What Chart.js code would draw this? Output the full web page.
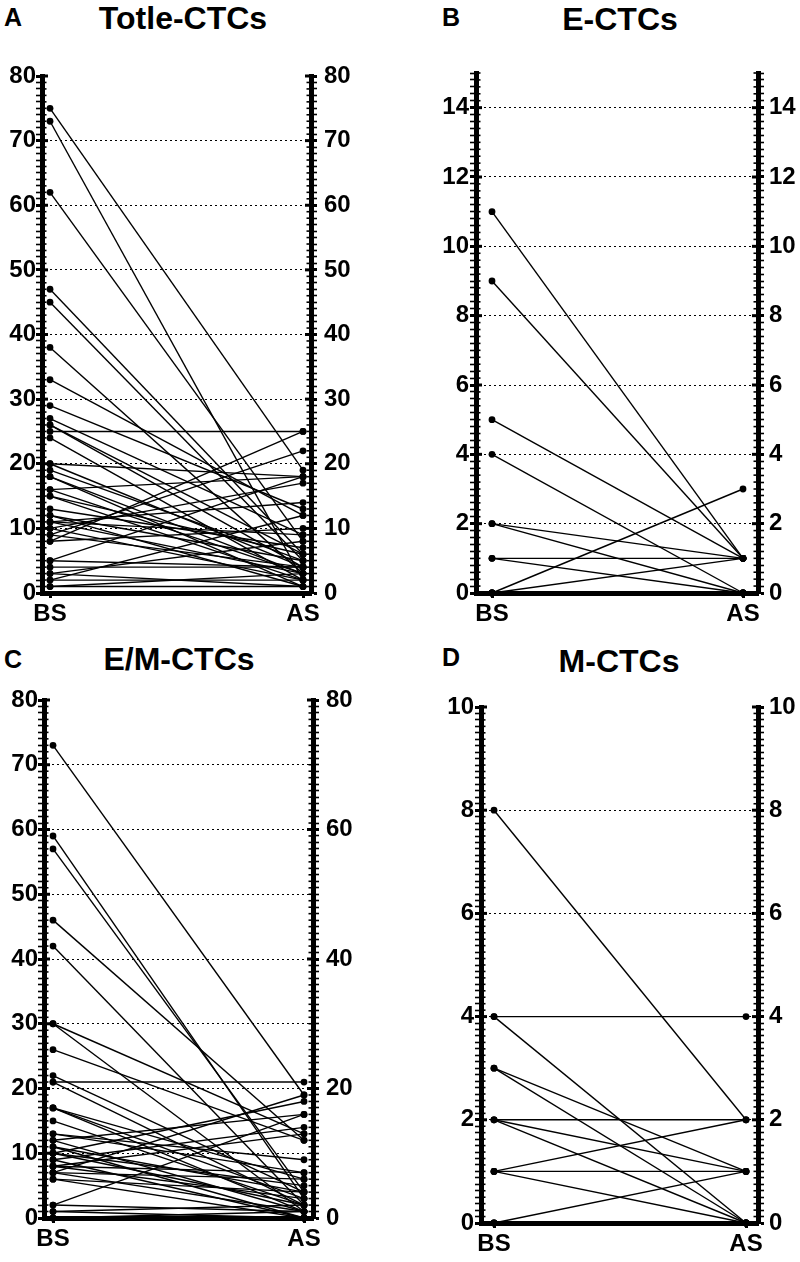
<!DOCTYPE html>
<html><head><meta charset="utf-8">
<script src="https://cdn.jsdelivr.net/npm/chart.js@4.4.1/dist/chart.umd.min.js"></script>
<style>
body{margin:0;background:#fff;width:800px;height:1262px;position:relative;overflow:hidden;font-family:"Liberation Sans",Arial,sans-serif;}
canvas{position:absolute;}
.t{position:absolute;font-weight:bold;color:#000;white-space:nowrap;line-height:1;}
.c{transform:translateX(-50%);}
</style></head><body>
<div class="t" style="left:4px;top:5px;font-size:25px">A</div>
<div class="t c" style="left:183px;top:2px;font-size:32px">Totle-CTCs</div>
<div class="t" style="left:442px;top:5px;font-size:25px">B</div>
<div class="t c" style="left:620px;top:3px;font-size:32px">E-CTCs</div>
<div class="t" style="left:4px;top:647px;font-size:25px">C</div>
<div class="t c" style="left:179px;top:643px;font-size:32px">E/M-CTCs</div>
<div class="t" style="left:442px;top:645px;font-size:25px">D</div>
<div class="t c" style="left:619px;top:645px;font-size:32px">M-CTCs</div>
<script>
// ---- data ----
const xLabels = ['BS', 'AS'];

const totalBS = [75,73,62,47,45,38,33,29,27,26,26,25,24,20,20,19,18,18,16,16,15,15,13,12,12,11,11,11,10,10,9,9,8,8,5,5,4,3,3,2,2,1,1];
const totalAS = [19,2,8,6,5,3,12,13,9,6,4,25,2,18,4,5,3,1,18,3,2,6,7,5,1,14,9,3,17,2,22,4,25,10,18,4,4,8,1,2,12,1,3];

const eBS = [11,9,5,4,2,2,1,1,0,0,0,0,0];
const eAS = [1,1,1,0,1,0,1,0,3,1,0,0,0];

const emBS = [73,59,57,46,42,30,30,26,22,21,21,17,17,17,15,13,13,12,12,11,11,10,10,10,9,9,8,8,8,7,7,7,6,6,2,2,1,1,0,0];
const emAS = [19,3,4,12,2,13,1,12,4,21,2,6,3,1,2,9,7,16,1,4,0,18,5,2,0,14,13,7,3,19,6,1,4,0,16,1,2,0,1,0];

const mBS = [8,4,4,3,3,2,2,2,1,1,1,0,0,0];
const mAS = [2,4,0,1,0,2,1,0,2,1,0,1,0,0];

const totalTicksLeft  = [0,10,20,30,40,50,60,70,80];
const totalTicksRight = [0,10,20,30,40,50,60,70,80];
const totalGrid       = [10,20,30,40,50,60,70];
const eTicksLeft  = [0,2,4,6,8,10,12,14];
const eTicksRight = [0,2,4,6,8,10,12,14];
const eGrid       = [2,4,6,8,10,12,14];
const emTicksLeft  = [0,10,20,30,40,50,60,70,80];
const emTicksRight = [0,20,40,60,80];
const emGrid       = [10,20,30,40,50,60,70];
const mTicksLeft  = [0,2,4,6,8,10];
const mTicksRight = [0,2,4,6,8,10];
const mGrid       = [2,4,6,8];

// ---- drawing ----
const FONT = '"Liberation Sans", Arial, sans-serif';

// short tick marks on the inner side of each y axis (drawn from the scale's own ticks)
const innerTicks = {
  id:'innerTicks',
  afterDraw(chart){
    const ctx = chart.ctx;
    ['y','y2'].forEach(id => {
      const s = chart.scales[id]; if (!s) return;
      const major = s.options._majorList || [];
      const xEdge = id==='y' ? chart.chartArea.left : chart.chartArea.right;
      const dir = id==='y' ? 1 : -1;
      ctx.save(); ctx.strokeStyle='#000';
      s.ticks.forEach(t => {
        const y = s.getPixelForValue(t.value);
        const isMaj = major.includes(t.value);
        ctx.lineWidth = isMaj ? 3 : 1.6;
        ctx.beginPath();
        ctx.moveTo(xEdge, y);
        ctx.lineTo(xEdge + dir*(isMaj ? 6 : 4.5), y);
        ctx.stroke();
      });
      ctx.restore();
    });
  }
};

function yScale(pos, min, max, step, labels, gridVals, width, pad, onArea){
  return {
    type:'linear', position:pos, min:min, max:max, _majorList: labels,
    afterBuildTicks: s => {
      const t = []; const n = Math.round((max-min)/step);
      for (let i=0;i<=n;i++) t.push({value: +(min+i*step).toFixed(4)});
      s.ticks = t;
    },
    afterFit: s => { s.width = width; },
    ticks:{autoSkip:false, padding:pad, color:'#000',
      font:{family:FONT, size:24, weight:'bold'},
      callback: v => labels.includes(v) ? String(v) : ''},
    grid:{drawOnChartArea:onArea, lineWidth:1,
      color: c => (c.tick && gridVals.includes(c.tick.value)) ? '#000' : 'rgba(0,0,0,0)',
      tickLength:6, tickColor:'#000',
      tickWidth: c => (c.tick && labels.includes(c.tick.value)) ? 3 : 1.6},
    border:{display:true, width:5, color:'#000', dash:[2,3]}
  };
}

function panel(p){
  const cv = document.createElement('canvas');
  cv.width = p.cw; cv.height = p.ch;
  cv.style.left = p.cx+'px'; cv.style.top = p.cy+'px';
  cv.style.width = p.cw+'px'; cv.style.height = p.ch+'px';
  document.body.appendChild(cv);
  const datasets = p.bs.map((b,i)=>({
    data:[{x:0,y:b},{x:1,y:p.as[i]}],
    borderColor:'#000', backgroundColor:'#000', borderWidth:1.4,
    pointRadius:3.4, pointHoverRadius:3.4, pointBackgroundColor:'#000',
    pointBorderWidth:0, clip:false, fill:false, tension:0
  }));
  const span = p.asX - p.bsX;
  new Chart(cv, {
    type:'line',
    data:{datasets},
    plugins:[innerTicks],
    options:{
      responsive:false, animation:false, events:[],
      layout:{padding:{left:0, right:0, top:p.axisT-p.cy, bottom:0}},
      plugins:{legend:{display:false}, tooltip:{enabled:false}, title:{display:false}},
      scales:{
        x:{type:'linear', position:'bottom',
          min: -(p.bsX-p.axisL)/span, max: 1+(p.axisR-p.asX)/span,
          afterBuildTicks: s => { s.ticks = [{value:0},{value:1}]; },
          afterFit: s => { s.height = p.cy+p.ch-p.axisB; },
          ticks:{autoSkip:false, maxRotation:0, padding:2, color:'#000',
            font:{family:FONT, size:24, weight:'bold'},
            callback: v => (v===0||v===1) ? xLabels[v] : ''},
          grid:{drawOnChartArea:false, tickLength:5, tickWidth:3, tickColor:'#000'},
          border:{display:true, width:5, color:'#000'}
        },
        y: yScale('left', p.min, p.max, p.step, p.left, p.grid, p.axisL-p.cx, p.padL, true),
        y2: yScale('right', p.min, p.max, p.step, p.right, [], p.cx+p.cw-p.axisR, p.padR, false)
      }
    }
  });
}

panel({cx:0, cy:0, cw:400, ch:630, axisL:42, axisR:311, axisT:76, axisB:593,
  bsX:50, asX:303, min:0, max:80, step:1, left:totalTicksLeft, right:totalTicksRight,
  grid:totalGrid, padL:0, padR:7, bs:totalBS, as:totalAS});
panel({cx:400, cy:0, cw:400, ch:630, axisL:476, axisR:758, axisT:73, axisB:593,
  bsX:492, asX:743, min:0, max:15, step:0.2, left:eTicksLeft, right:eTicksRight,
  grid:eGrid, padL:1, padR:5, bs:eBS, as:eAS});
panel({cx:0, cy:630, cw:400, ch:632, axisL:44, axisR:313, axisT:700, axisB:1218,
  bsX:53, asX:304, min:0, max:80, step:1, left:emTicksLeft, right:emTicksRight,
  grid:emGrid, padL:0, padR:7, bs:emBS, as:emAS});
panel({cx:400, cy:630, cw:400, ch:632, axisL:481, axisR:758, axisT:707, axisB:1223,
  bsX:494, asX:746, min:0, max:10, step:0.125, left:mTicksLeft, right:mTicksRight,
  grid:mGrid, padL:1, padR:5, bs:mBS, as:mAS});
</script>
</body></html>
